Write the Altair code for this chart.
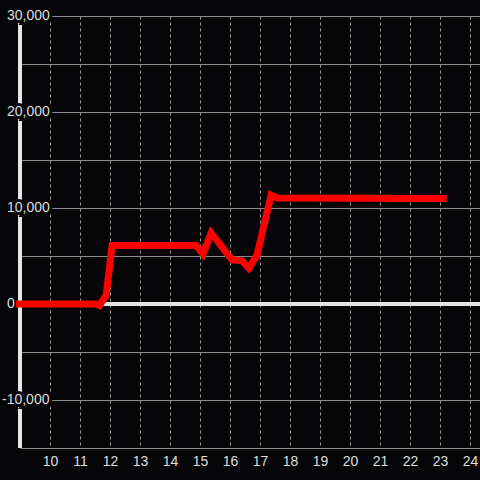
import altair as alt
import pandas as pd

# red series
xs = [8.87, 11.55, 11.65, 11.87, 12.07, 14.87, 15.1, 15.37, 16.07, 16.4, 16.63, 16.9, 17.37, 17.57, 23.22]
ys = [0, 0, -150, 900, 6100, 6100, 5200, 7400, 4600, 4500, 3750, 5100, 11350, 11050, 11000]

# y tick labels
ytick_vals = [30000, 20000, 10000, 0, -10000]
ytick_text = ["30,000", "20,000", "10,000", "0", "-10,000"]
ygrid_vals = [-15000, -10000, -5000, 0, 5000, 10000, 15000, 20000, 25000, 30000]
xtick_vals = [10, 11, 12, 13, 14, 15, 16, 17, 18, 19, 20, 21, 22, 23, 24]

BG = "#060608"
FONT = "Liberation Sans"

# page background / margin to match the edge-to-edge dark reference
try:
    import altair.utils.html as _ahtml
    _orig = _ahtml.TEMPLATES["standard"]

    class _Wrap:
        def render(self, *a, **k):
            out = _orig.render(*a, **k)
            return out.replace(
                "<head>",
                "<head><style>html,body{margin:0;padding:0;background:" + BG + ";}</style>",
                1,
            )

    _ahtml.TEMPLATES["standard"] = _Wrap()
except Exception:
    pass

xscale = alt.Scale(domain=[9, 24.333], nice=False, zero=False)
yscale = alt.Scale(domain=[-15000, 30000], nice=False, zero=False)

xaxis = alt.Axis(values=xtick_vals, grid=True, gridDash=[3, 3], gridColor="#9a9a9a",
                 gridWidth=1, ticks=False, domain=False, labelColor="#dddddd",
                 labelFont=FONT, labelFontSize=14, labelPadding=6, title=None)
yaxis = alt.Axis(values=ygrid_vals, grid=True, gridColor="#8c8c8c", gridWidth=1,
                 ticks=False, domain=False, labels=False, title=None)

line_df = pd.DataFrame({"x": xs, "y": ys})
lab_df = pd.DataFrame({"y": ytick_vals, "t": ytick_text})

X = alt.X("x:Q", scale=xscale, axis=xaxis)
Y = alt.Y("y:Q", scale=yscale, axis=yaxis)

zero_rule = alt.Chart(line_df).mark_rule(color="#e6e6e6", strokeWidth=3).encode(
    y=alt.datum(0, type="quantitative", scale=yscale, axis=yaxis)
)
yaxis_rule = alt.Chart(line_df).mark_rule(color="#e6e6e6", strokeWidth=3).encode(
    x=alt.datum(9, type="quantitative", scale=xscale, axis=xaxis)
)


def label_layer(filt, xpos, halo):
    props = dict(align="left", baseline="middle", font=FONT, fontSize=14)
    if halo:
        props.update(fill=BG, stroke=BG, strokeWidth=6)
    else:
        props.update(color="#dddddd")
    return alt.Chart(lab_df).transform_filter(filt).mark_text(**props).encode(
        x=alt.value(xpos), y=Y, text="t:N"
    )


pos_f = "datum.y >= 0"
neg_f = "datum.y < 0"
halo_layers = [label_layer(pos_f, -13, True), label_layer(neg_f, -18, True)]
text_layers = [label_layer(pos_f, -13, False), label_layer(neg_f, -18, False)]

red = alt.Chart(line_df).mark_line(
    color="#ff0000", strokeWidth=7, strokeCap="butt", strokeJoin="miter"
).encode(
    x=X, y=Y, order=alt.Order("x:Q"),
)

chart = alt.layer(yaxis_rule, zero_rule, *halo_layers, *text_layers, red).properties(
    width=460, height=432,
    autosize=alt.AutoSizeParams(type="none"),
    padding={"left": 20, "top": 16, "right": 0, "bottom": 32},
    background=BG,
).configure_view(strokeWidth=0)

chart.save("out.html", embed_options={"renderer": "svg", "actions": False})
